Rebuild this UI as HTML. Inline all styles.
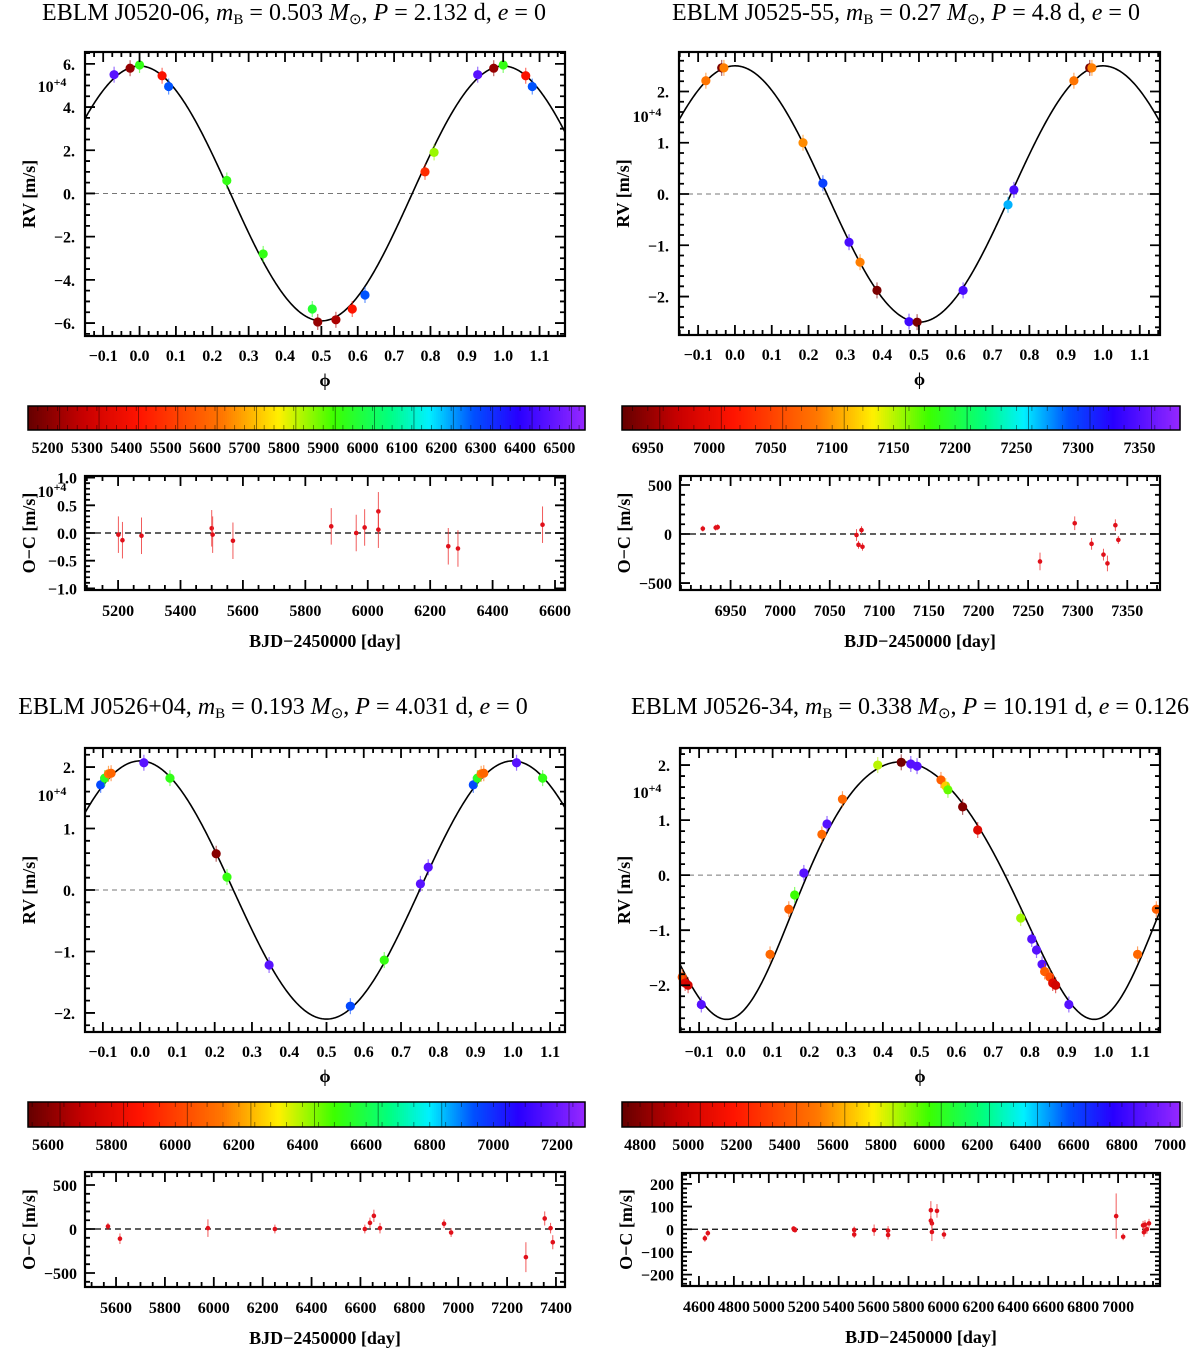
<!DOCTYPE html>
<html><head><meta charset="utf-8">
<style>
html,body{margin:0;padding:0;background:#fff;}
svg{display:block;}
text{font-family:"Liberation Serif",serif;fill:#000;}
.tk{font-weight:bold;font-size:16px;}
.ax{font-weight:bold;font-size:18px;}
.ttl{font-size:24px;}
</style></head>
<body>
<svg id="fig" xmlns="http://www.w3.org/2000/svg" width="1200" height="1352" viewBox="0 0 1200 1352">
<rect x="0" y="0" width="1200" height="1352" fill="#fff"/>
<text class="ttl" x="294" y="20" text-anchor="middle">EBLM J0520-06, <tspan font-style="italic">m</tspan><tspan font-size="15" dy="4">B</tspan><tspan dy="-4"> = 0.503 </tspan><tspan font-style="italic">M</tspan><tspan font-size="15" dy="4">⊙</tspan><tspan dy="-4">, </tspan><tspan font-style="italic">P</tspan> = 2.132 d, <tspan font-style="italic">e</tspan> = 0</text>
<text class="ttl" x="906" y="20" text-anchor="middle">EBLM J0525-55, <tspan font-style="italic">m</tspan><tspan font-size="15" dy="4">B</tspan><tspan dy="-4"> = 0.27 </tspan><tspan font-style="italic">M</tspan><tspan font-size="15" dy="4">⊙</tspan><tspan dy="-4">, </tspan><tspan font-style="italic">P</tspan> = 4.8 d, <tspan font-style="italic">e</tspan> = 0</text>
<text class="ttl" x="273" y="714" text-anchor="middle">EBLM J0526+04, <tspan font-style="italic">m</tspan><tspan font-size="15" dy="4">B</tspan><tspan dy="-4"> = 0.193 </tspan><tspan font-style="italic">M</tspan><tspan font-size="15" dy="4">⊙</tspan><tspan dy="-4">, </tspan><tspan font-style="italic">P</tspan> = 4.031 d, <tspan font-style="italic">e</tspan> = 0</text>
<text class="ttl" x="910" y="714" text-anchor="middle">EBLM J0526-34, <tspan font-style="italic">m</tspan><tspan font-size="15" dy="4">B</tspan><tspan dy="-4"> = 0.338 </tspan><tspan font-style="italic">M</tspan><tspan font-size="15" dy="4">⊙</tspan><tspan dy="-4">, </tspan><tspan font-style="italic">P</tspan> = 10.191 d, <tspan font-style="italic">e</tspan> = 0.126</text>
</svg>
<script>
// ---------- Panel 1: EBLM J0520-06 ----------
const p1Phase = [0.93,0.974,0.0,0.062,0.08,0.24,0.34,0.475,0.49,0.54,0.585,0.62,0.785,0.81];
const p1RV = [5.5,5.8,5.95,5.45,4.95,0.6,-2.8,-5.35,-5.95,-5.85,-5.35,-4.7,1.0,1.9];
const p1Teff = [6470,5220,5950,5420,6280,5950,5950,5980,5220,5250,5430,6280,5480,5860];
const p1K = [5.9];
const p1OcT = [5201,5214,5275,5500,5503,5568,5883,5963,5990,6034,6034,6258,6289,6560];
const p1Oc = [-0.03,-0.13,-0.05,0.085,-0.03,-0.14,0.12,0.0,0.1,0.39,0.06,-0.24,-0.28,0.15];
const p1OcErr = [0.33,0.33,0.33,0.33,0.33,0.33,0.33,0.33,0.33,0.35,0.33,0.33,0.33,0.33];
const p1YTicks = [-6,-4,-2,0,2,4,6];
const p1YLabels = ["−6.","−4.","−2.","0.","2.","4.","6."];
const p1CbTicks = [5200,5300,5400,5500,5600,5700,5800,5900,6000,6100,6200,6300,6400,6500];
const p1OcXTicks = [5200,5400,5600,5800,6000,6200,6400,6600];
const p1OcYTicks = [-1.0,-0.5,0.0,0.5,1.0];
const p1OcYLabels = ["−1.0","−0.5","0.0","0.5","1.0"];

// ---------- Panel 2: EBLM J0525-55 ----------
const p2Phase = [0.921,0.964,0.970,0.185,0.239,0.31,0.34,0.386,0.473,0.495,0.62,0.742,0.758];
const p2RV = [2.21,2.46,2.46,1.0,0.21,-0.94,-1.33,-1.88,-2.49,-2.50,-1.88,-0.21,0.08];
const p2Teff = [7085,6940,7090,7095,7300,7345,7090,6940,7340,6940,7345,7270,7345];
const p2K = [2.5];
const p2OcT = [6922,6935,6937,7077,7079,7082,7083,7262,7297,7314,7326,7330,7338,7341];
const p2Oc = [55,65,70,-10,-110,40,-130,-280,110,-100,-210,-300,90,-60];
const p2OcErr = [30,30,30,60,40,40,40,90,70,60,60,80,60,40];
const p2YTicks = [-2,-1,0,1,2];
const p2YLabels = ["−2.","−1.","0.","1.","2."];
const p2CbTicks = [6950,7000,7050,7100,7150,7200,7250,7300,7350];
const p2OcXTicks = [6950,7000,7050,7100,7150,7200,7250,7300,7350];
const p2OcYTicks = [-500,0,500];
const p2OcYLabels = ["−500","0","500"];

// ---------- Panel 3: EBLM J0526+04 ----------
const p3Phase = [0.894,0.905,0.915,0.922,0.01,0.08,0.204,0.233,0.346,0.564,0.655,0.752,0.773];
const p3RV = [1.71,1.82,1.89,1.9,2.07,1.82,0.59,0.21,-1.22,-1.89,-1.14,0.1,0.37];
const p3Teff = [6950,6550,6150,6100,7170,6530,5600,6520,7170,6950,6520,7170,7170];
const p3K = [2.1];
const p3OcT = [5567,5616,5976,6250,6618,6639,6655,6680,6942,6971,7277,7354,7378,7387];
const p3Oc = [30,-110,10,0,0,70,150,10,60,-40,-320,120,10,-150];
const p3OcErr = [40,60,100,50,50,60,70,60,50,50,170,80,60,80];
const p3YTicks = [-2,-1,0,1,2];
const p3YLabels = ["−2.","−1.","0.","1.","2."];
const p3CbTicks = [5600,5800,6000,6200,6400,6600,6800,7000,7200];
const p3OcXTicks = [5600,5800,6000,6200,6400,6600,6800,7000,7200,7400];
const p3OcYTicks = [-500,0,500];
const p3OcYLabels = ["−500","0","500"];

// ---------- Panel 4: EBLM J0526-34 ----------
const p4Phase = [0.093,0.144,0.16,0.185,0.234,0.248,0.29,0.386,0.45,0.476,0.493,0.558,0.571,0.577,0.617,0.658,0.775,0.805,0.818,0.833,0.84,0.854,0.862,0.87,0.906];
const p4RV = [-1.44,-0.62,-0.36,0.04,0.74,0.93,1.38,2.0,2.05,2.02,1.98,1.73,1.62,1.55,1.24,0.82,-0.78,-1.16,-1.36,-1.62,-1.75,-1.85,-1.96,-2.0,-2.35];
const p4Teff = [5480,5450,6000,6880,5480,6880,5480,5850,4760,6880,6880,5450,5700,5950,4800,5050,5880,6880,6880,6880,5450,5400,5050,5000,6880];
const p4K = [2.34];
const p4Ecc = [0.126];
const p4OcT = [4634,4651,5142,5145,5148,5150,5489,5489,5603,5683,5683,5928,5928,5934,5934,5963,6003,6989,7029,7143,7148,7154,7165,7177];
const p4Oc = [-40,-17,3,-2,0,-4,-3,-23,-4,-6,-25,84,38,26,-12,81,-23,58,-33,17,-13,20,0,26];
const p4OcErr = [15,15,10,10,10,10,15,15,25,20,20,40,20,20,40,30,20,100,15,20,20,20,20,20];
const p4YTicks = [-2,-1,0,1,2];
const p4YLabels = ["−2.","−1.","0.","1.","2."];
const p4CbTicks = [4800,5000,5200,5400,5600,5800,6000,6200,6400,6600,6800,7000];
const p4OcXTicks = [4600,4800,5000,5200,5400,5600,5800,6000,6200,6400,6600,6800,7000];
const p4OcYTicks = [-200,-100,0,100,200];
const p4OcYLabels = ["−200","−100","0","100","200"];

const phaseTicks = [-0.1,0,0.1,0.2,0.3,0.4,0.5,0.6,0.7,0.8,0.9,1.0,1.1];
const phaseLabels = ["−0.1","0.0","0.1","0.2","0.3","0.4","0.5","0.6","0.7","0.8","0.9","1.0","1.1"];

const NS = "http://www.w3.org/2000/svg";
const svg = document.getElementById('fig');
function mk(tag, attrs, parent){
  const e = document.createElementNS(NS, tag);
  for (const k in attrs) e.setAttribute(k, attrs[k]);
  (parent || svg).appendChild(e);
  return e;
}
const stops = [[0,[100,0,0]],[0.1,[200,0,0]],[0.2,[255,20,0]],[0.35,[255,120,0]],[0.45,[255,240,0]],[0.55,[60,255,0]],[0.65,[0,255,130]],[0.72,[0,240,255]],[0.8,[0,80,255]],[0.88,[40,0,255]],[1.0,[150,40,255]]];
function cmap(t){
  t = Math.max(0, Math.min(1, t));
  for (let i = 1; i < stops.length; i++){
    if (t <= stops[i][0]){
      const a = stops[i-1], b = stops[i];
      const f = (t - a[0]) / (b[0] - a[0]);
      const c = a[1].map((v, j) => Math.round(v + (b[1][j] - v) * f));
      return 'rgb(' + c.join(',') + ')';
    }
  }
  return 'rgb(150,40,255)';
}
function scale(d0, d1, r0, r1){ return v => r0 + (v - d0) / (d1 - d0) * (r1 - r0); }

function axisBox(b, xs, ys, xMaj, xMinStep, yMaj, yMinStep, xr, yr, name){
  const g = mk('g', {});
  
  
  const r = mk('rect', {x:b.x0, y:b.y0, width:b.x1-b.x0, height:b.y1-b.y0, fill:'none', stroke:'#000', 'stroke-width':2.2}, g);
  
  
  let d = '';
  const xStart = Math.ceil(xr[0] / xMinStep - 1e-6);
  for (let i = xStart; i * xMinStep <= xr[1] + 1e-9; i++){
    const v = i * xMinStep, X = xs(v);
    const major = xMaj.some(m => Math.abs(m - v) < xMinStep * 0.01);
    const L = major ? 10 : 5;
    d += 'M' + X + ' ' + b.y1 + 'v' + (-L) + 'M' + X + ' ' + b.y0 + 'v' + L;
  }
  const yStart = Math.ceil(yr[0] / yMinStep - 1e-6);
  for (let i = yStart; i * yMinStep <= yr[1] + 1e-9; i++){
    const v = i * yMinStep, Y = ys(v);
    const major = yMaj.some(m => Math.abs(m - v) < yMinStep * 0.01);
    const L = major ? 10 : 5;
    d += 'M' + b.x0 + ' ' + Y + 'h' + L + 'M' + b.x1 + ' ' + Y + 'h' + (-L);
  }
  const t = mk('path', {d:d, stroke:'#000', 'stroke-width':1.8, fill:'none'}, g);
  
  
  return g;
}
function label(x, y, txt, cls, anchor, name){
  const e = mk('text', {x:x, y:y, class:cls, 'text-anchor':anchor || 'middle'});
  e.textContent = txt;
  
  
  return e;
}
function exp4(x, y, name){
  const e = mk('text', {x:x, y:y, class:'tk', 'text-anchor':'middle'});
  
  
  const a = mk('tspan', {}, e); a.textContent = '10';
  const c = mk('tspan', {dy:-6, 'font-size':12}, e); c.textContent = '+4';
}

function panel(cfg){
  const b = cfg.rvBox;
  const xs = scale(cfg.xr[0], cfg.xr[1], b.x0, b.x1);
  const ys = scale(cfg.yr[0], cfg.yr[1], b.y1, b.y0);
  const cid = 'clip' + cfg.id;
  const cp = mk('clipPath', {id:cid});
  mk('rect', {x:b.x0, y:b.y0, width:b.x1-b.x0, height:b.y1-b.y0}, cp);
  const zl = mk('line', {x1:b.x0, x2:b.x1, y1:ys(0), y2:ys(0), stroke:'#777', 'stroke-width':1, 'stroke-dasharray':'5,4'});
  
  
  let pd = '';
  for (let i = 0; i <= 500; i++){
    const ph = cfg.xr[0] + (cfg.xr[1] - cfg.xr[0]) * i / 500;
    pd += (i ? 'L' : 'M') + xs(ph).toFixed(2) + ' ' + ys(cfg.model(ph)).toFixed(2);
  }
  const cv = mk('path', {d:pd, fill:'none', stroke:'#000', 'stroke-width':1.6, 'clip-path':'url(#' + cid + ')'});
  
  
  const cs = scale(cfg.cbRange[0], cfg.cbRange[1], 0, 1);
  cfg.phase.forEach((p, i) => {
    [-1, 0, 1].forEach(sh => {
      const ph = p + sh;
      if (ph < cfg.xr[0] || ph > cfg.xr[1]) return;
      const col = cmap(cs(cfg.teff[i]));
      const X = xs(ph), Y = ys(cfg.rv[i]);
      const eb = mk('line', {x1:X, x2:X, y1:Y - 8, y2:Y + 8, stroke:col, 'stroke-width':1.2, opacity:0.6});
      
      
      const c = mk('circle', {cx:X, cy:Y, r:4.6, fill:col});
      
      
    });
  });
  axisBox(b, xs, ys, phaseTicks, 0.025, cfg.yTicks, cfg.yMinor, cfg.xr, cfg.yr, cfg.name + '-rv');
  phaseTicks.forEach((v, i) => {
    if (v < cfg.xr[0] || v > cfg.xr[1]) return;
    label(xs(v), b.y1 + 25, phaseLabels[i], 'tk', 'middle', cfg.name + '-phase-tick-label');
  });
  cfg.yTicks.forEach((v, i) => label(b.x0 - 10, ys(v) + 6, cfg.yLabels[i], 'tk', 'end', cfg.name + '-rv-tick-label'));
  exp4(cfg.expPos[0], cfg.expPos[1], cfg.name + '-rv-exponent');
  const yt = label(0, 0, 'RV [m/s]', 'ax', 'middle', cfg.name + '-rv-axis-title');
  yt.setAttribute('transform', 'translate(' + (b.x0 - 50) + ',' + ((b.y0 + b.y1) / 2) + ') rotate(-90)');
  label((b.x0 + b.x1) / 2, b.y1 + 50, 'ϕ', 'ax', 'middle', cfg.name + '-phase-axis-title');

  // colorbar
  const cb = cfg.cbBox;
  const cx = scale(cfg.cbRange[0], cfg.cbRange[1], cb.x0, cb.x1);
  const cg = mk('g', {});
  
  
  const N = 280, w = (cb.x1 - cb.x0) / N;
  for (let i = 0; i < N; i++){
    const r = mk('rect', {x:cb.x0 + i * w, y:cb.y0, width:w + 0.6, height:cb.y1 - cb.y0, fill:cmap((i + 0.5) / N)}, cg);
    
    
  }
  const step = cfg.cbTicks[1] - cfg.cbTicks[0];
  let td = '';
  for (let v = cfg.cbTicks[0] - step; v <= cfg.cbRange[1]; v += step / 4){
    if (v < cfg.cbRange[0]) continue;
    const X = cx(v);
    td += 'M' + X + ' ' + cb.y0 + 'v5M' + X + ' ' + cb.y1 + 'v-5';
  }
  cfg.cbTicks.forEach(v => { const X = cx(v) + 12; td += 'M' + X + ' ' + cb.y0 + 'V' + cb.y1; });
  const tp = mk('path', {d:td, stroke:'#000', 'stroke-width':0.8, opacity:0.55, fill:'none'}, cg);
  
  
  const fr = mk('rect', {x:cb.x0, y:cb.y0, width:cb.x1 - cb.x0, height:cb.y1 - cb.y0, fill:'none', stroke:'#000', 'stroke-width':1.5}, cg);
  
  
  cfg.cbTicks.forEach(v => label(cx(v), cb.y1 + 23, String(v), 'tk', 'middle', cfg.name + '-colorbar-label'));

  // O-C
  const ob = cfg.ocBox;
  const ox = scale(cfg.ocXr[0], cfg.ocXr[1], ob.x0, ob.x1);
  const oy = scale(cfg.ocYr[0], cfg.ocYr[1], ob.y1, ob.y0);
  const oz = mk('line', {x1:ob.x0, x2:ob.x1, y1:oy(0), y2:oy(0), stroke:'#000', 'stroke-width':1.2, 'stroke-dasharray':'6,4'});
  
  
  cfg.ocT.forEach((t, i) => {
    const X = ox(t), Y = oy(cfg.oc[i]), E = Math.abs(oy(cfg.ocErr[i]) - oy(0));
    const eb = mk('line', {x1:X, x2:X, y1:Y - E, y2:Y + E, stroke:'#e33', 'stroke-width':1, opacity:0.8});
    
    
    const c = mk('circle', {cx:X, cy:Y, r:2.3, fill:'#e0101a'});
    
    
  });
  axisBox(ob, ox, oy, cfg.ocXTicks, cfg.ocXMinor, cfg.ocYTicks, cfg.ocYMinor, cfg.ocXr, cfg.ocYr, cfg.name + '-oc');
  cfg.ocXTicks.forEach(v => label(ox(v), ob.y1 + 26, String(v), 'tk', 'middle', cfg.name + '-oc-x-tick-label'));
  cfg.ocYTicks.forEach((v, i) => label(ob.x0 - 8, oy(v) + 6, cfg.ocYLabels[i], 'tk', 'end', cfg.name + '-oc-y-tick-label'));
  if (cfg.ocExp) exp4(cfg.ocExp[0], cfg.ocExp[1], cfg.name + '-oc-exponent');
  const ot = label(0, 0, 'O−C [m/s]', 'ax', 'middle', cfg.name + '-oc-axis-title');
  ot.setAttribute('transform', 'translate(' + (ob.x0 - 50) + ',' + ((ob.y0 + ob.y1) / 2) + ') rotate(-90)');
  label((ob.x0 + ob.x1) / 2, ob.y1 + 57, 'BJD−2450000 [day]', 'ax', 'middle', cfg.name + '-time-axis-title');
}

function circModel(K){ return ph => K * Math.cos(2 * Math.PI * ph); }
function eccModel(K, e, w, phMax){
  const nuMax = -w;
  const Emax = 2 * Math.atan(Math.sqrt((1 - e) / (1 + e)) * Math.tan(nuMax / 2));
  const Mmax = Emax - e * Math.sin(Emax);
  const ph0 = phMax - Mmax / (2 * Math.PI);
  return ph => {
    const M = 2 * Math.PI * (ph - ph0);
    let E = M;
    for (let k = 0; k < 30; k++) E = E - (E - e * Math.sin(E) - M) / (1 - e * Math.cos(E));
    const nu = 2 * Math.atan2(Math.sqrt(1 + e) * Math.sin(E / 2), Math.sqrt(1 - e) * Math.cos(E / 2));
    return K * (Math.cos(nu + w) + e * Math.cos(w));
  };
}

panel({id:1, name:'j0520', rvBox:{x0:85,x1:565,y0:52,y1:336}, xr:[-0.15,1.17], yr:[-6.6,6.55],
  model:circModel(p1K[0]), phase:p1Phase, rv:p1RV, teff:p1Teff, yTicks:p1YTicks, yLabels:p1YLabels, yMinor:0.5, expPos:[52,92],
  cbBox:{x0:28,x1:585,y0:406,y1:430}, cbRange:[5150,6565], cbTicks:p1CbTicks,
  ocBox:{x0:85,x1:565,y0:476,y1:590}, ocXr:[5094,6632], ocYr:[-1.03,1.03], ocT:p1OcT, oc:p1Oc, ocErr:p1OcErr,
  ocXTicks:p1OcXTicks, ocXMinor:50, ocYTicks:p1OcYTicks, ocYLabels:p1OcYLabels, ocYMinor:0.1, ocExp:[52,497]});
panel({id:2, name:'j0525', rvBox:{x0:679,x1:1160,y0:52,y1:335}, xr:[-0.152,1.155], yr:[-2.75,2.77],
  model:circModel(p2K[0]), phase:p2Phase, rv:p2RV, teff:p2Teff, yTicks:p2YTicks, yLabels:p2YLabels, yMinor:0.2, expPos:[647,122],
  cbBox:{x0:622,x1:1180,y0:406,y1:430}, cbRange:[6929,7383], cbTicks:p2CbTicks,
  ocBox:{x0:680,x1:1160,y0:476,y1:590}, ocXr:[6899,7383], ocYr:[-571,592], ocT:p2OcT, oc:p2Oc, ocErr:p2OcErr,
  ocXTicks:p2OcXTicks, ocXMinor:10, ocYTicks:p2OcYTicks, ocYLabels:p2OcYLabels, ocYMinor:100});
panel({id:3, name:'j0526p04', rvBox:{x0:85,x1:565,y0:748,y1:1032}, xr:[-0.148,1.14], yr:[-2.31,2.31],
  model:circModel(p3K[0]), phase:p3Phase, rv:p3RV, teff:p3Teff, yTicks:p3YTicks, yLabels:p3YLabels, yMinor:0.2, expPos:[52,801],
  cbBox:{x0:28,x1:585,y0:1102,y1:1127}, cbRange:[5537,7288], cbTicks:p3CbTicks,
  ocBox:{x0:85,x1:565,y0:1172,y1:1287}, ocXr:[5473,7437], ocYr:[-659,648], ocT:p3OcT, oc:p3Oc, ocErr:p3OcErr,
  ocXTicks:p3OcXTicks, ocXMinor:50, ocYTicks:p3OcYTicks, ocYLabels:p3OcYLabels, ocYMinor:100});
panel({id:4, name:'j0526m34', rvBox:{x0:680,x1:1160,y0:748,y1:1032}, xr:[-0.152,1.154], yr:[-2.85,2.31],
  model:eccModel(p4K[0], p4Ecc[0], 198 * Math.PI / 180, 0.45), phase:p4Phase, rv:p4RV, teff:p4Teff, yTicks:p4YTicks, yLabels:p4YLabels, yMinor:0.2, expPos:[647,798],
  cbBox:{x0:622,x1:1180,y0:1102,y1:1127}, cbRange:[4725,7041], cbTicks:p4CbTicks,
  ocBox:{x0:682,x1:1160,y0:1173,y1:1286}, ocXr:[4503,7240], ocYr:[-250,248], ocT:p4OcT, oc:p4Oc, ocErr:p4OcErr,
  ocXTicks:p4OcXTicks, ocXMinor:50, ocYTicks:p4OcYTicks, ocYLabels:p4OcYLabels, ocYMinor:20});
</script>
</body></html>
